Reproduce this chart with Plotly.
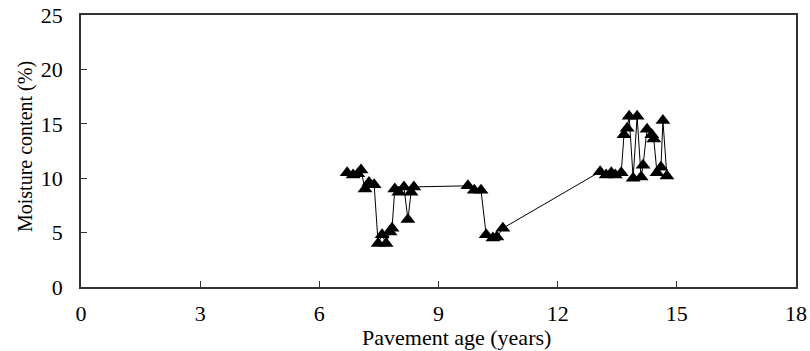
import plotly.graph_objects as go

# Pavement age (years) and measured moisture content (%)
age_years = [
    6.70, 6.85, 6.97, 7.05, 7.15, 7.25, 7.38,
    7.48, 7.58, 7.68, 7.78, 7.83,
    7.90, 8.00, 8.13, 8.23, 8.31, 8.38,
    9.74, 9.90, 10.07,
    10.20, 10.37, 10.47, 10.62,
    13.07, 13.22, 13.35, 13.45, 13.60,
    13.67, 13.75, 13.80, 13.90, 14.00, 14.10, 14.15,
    14.25, 14.37, 14.42, 14.50, 14.60, 14.65, 14.75,
]
moisture_pct = [
    10.5, 10.3, 10.4, 10.75, 9.0, 9.6, 9.4,
    4.0, 4.8, 4.0, 5.05, 5.4,
    9.0, 8.7, 9.2, 6.2, 8.7, 9.2,
    9.3, 8.9, 8.9,
    4.8, 4.5, 4.6, 5.4,
    10.6, 10.3, 10.5, 10.3, 10.5,
    14.0, 14.6, 15.7, 10.0, 15.7, 10.1, 11.2,
    14.5, 14.0, 13.6, 10.5, 11.0, 15.3, 10.2,
]

x_ticks = [0, 3, 6, 9, 12, 15, 18]
y_ticks = [0, 5, 10, 15, 20, 25]

FONT = "Liberation Serif, Times New Roman, serif"

fig = go.Figure()
fig.add_trace(go.Scatter(
    x=age_years,
    y=moisture_pct,
    mode="lines+markers",
    line=dict(color="black", width=1),
    marker=dict(symbol="triangle-up", size=13, color="black"),
    showlegend=False,
))

fig.update_layout(
    width=810,
    height=351,
    margin=dict(l=81, r=14, t=15, b=64, autoexpand=False),
    paper_bgcolor="white",
    plot_bgcolor="white",
    font=dict(family=FONT, size=22, color="black"),
)

axis_style = dict(
    ticks="inside",
    ticklen=6,
    tickcolor="#333",
    showline=True,
    linecolor="#333",
    linewidth=1.5,
    mirror=True,
    showgrid=False,
    zeroline=False,
    automargin=False,
    tickfont=dict(family=FONT, size=22),
)

fig.update_xaxes(
    range=[0, 18],
    tickvals=x_ticks,
    ticktext=[str(v) for v in x_ticks],
    ticklabelstandoff=6,
    **axis_style,
)
fig.update_yaxes(
    range=[0, 25],
    tickvals=y_ticks,
    ticktext=[str(v) for v in y_ticks],
    ticklabelstandoff=12,
    **axis_style,
)

fig.add_annotation(
    text="Pavement age (years)",
    xref="paper", yref="paper",
    x=(456 - 81) / 715, y=(287 - 337) / 272,
    xanchor="center", yanchor="middle",
    showarrow=False,
    font=dict(family=FONT, size=22),
)
fig.add_annotation(
    text="Moisture content (%)",
    xref="paper", yref="paper",
    x=-56 / 715, y=(287 - 146) / 272,
    xanchor="center", yanchor="middle",
    textangle=-90,
    showarrow=False,
    font=dict(family=FONT, size=20),
)

fig.write_html("out.html")
